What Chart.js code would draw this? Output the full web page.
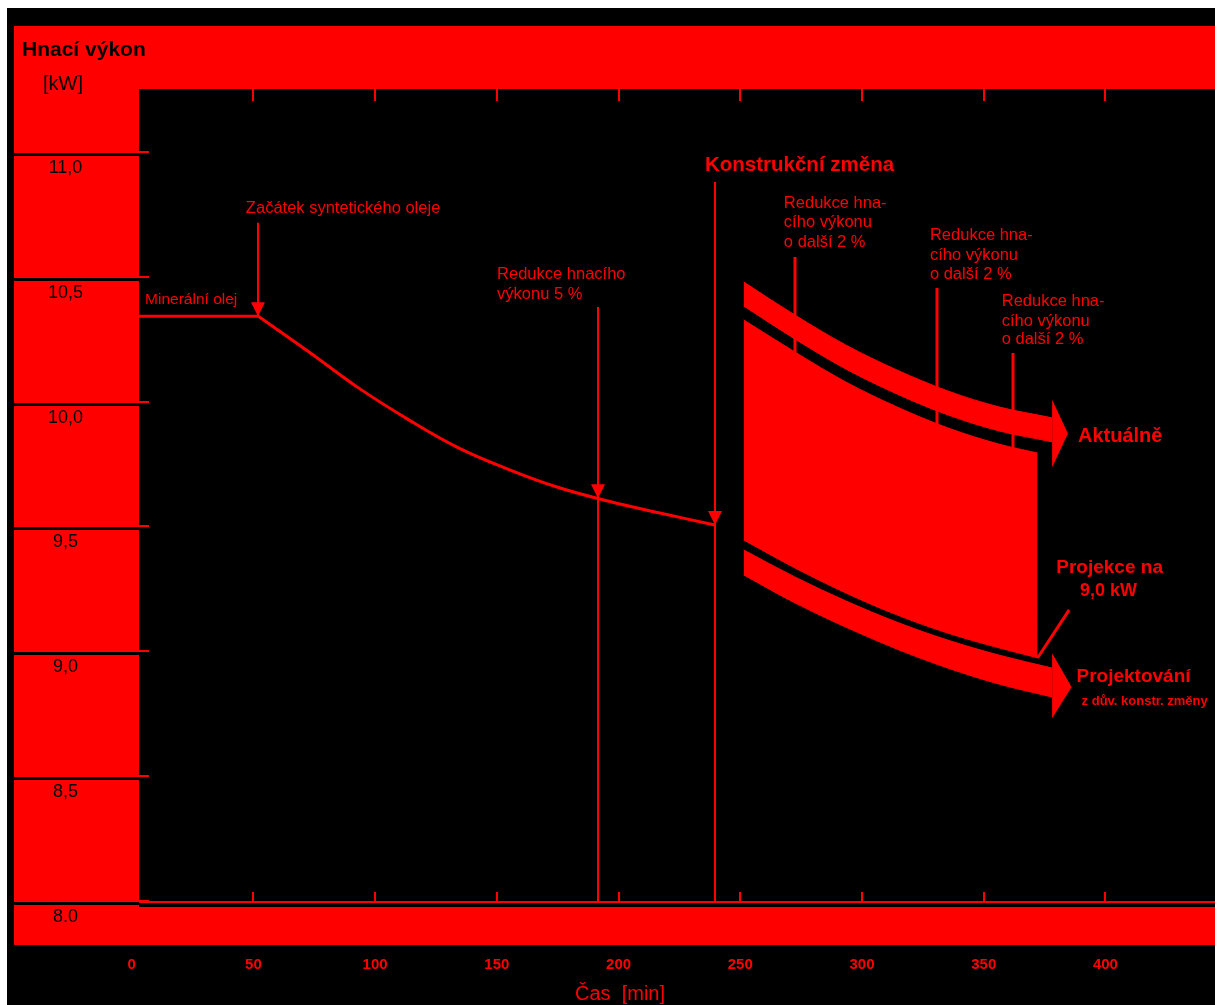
<!DOCTYPE html>
<html lang="cs">
<head>
<meta charset="utf-8">
<title>Hnací výkon</title>
<script src="https://cdn.jsdelivr.net/npm/chart.js@4.4.1/dist/chart.umd.min.js"></script>
<style>
html,body{margin:0;padding:0;background:#fff;}
canvas{display:block;}
</style>
</head>
<body>
<canvas id="c" width="1215" height="1005"></canvas>
<script>
// ---------- data ----------
const xTickValues = [0, 50, 100, 150, 200, 250, 300, 350, 400];
const xTickLabels = ['0', '50', '100', '150', '200', '250', '300', '350', '400'];
const yTickValues = [8.0, 8.5, 9.0, 9.5, 10.0, 10.5, 11.0];
const yTickLabels = ['8.0', '8,5', '9,0', '9,5', '10,0', '10,5', '11,0'];

// mineral oil (min -> kW)
const mineralT = [0, 52];
const mineralV = [10.35, 10.35];
// synthetic oil
const syntheticT = [52, 73, 93, 114, 134, 155, 175, 196, 216.5, 239.5];
const syntheticV = [10.35, 10.206, 10.064, 9.934, 9.824, 9.736, 9.665, 9.609, 9.563, 9.514];

// after design change: "Aktuálně" ribbon
const bandT = [251.4, 272.4, 293.3, 314.3, 335.2, 356.2, 378.1];
const actualTop = [10.487, 10.355, 10.235, 10.135, 10.051, 9.987, 9.943];
const actualBottom = [10.391, 10.259, 10.139, 10.039, 9.955, 9.891, 9.847];
// shaded area between the two trends
const areaT = [251.4, 272.4, 293.3, 314.3, 335.2, 356.2, 372.1];
const areaTop = [10.335, 10.207, 10.087, 9.987, 9.903, 9.838, 9.802];
const areaBottom = [9.454, 9.342, 9.242, 9.154, 9.081, 9.022, 8.982];
// "Projektování" ribbon
const projTop = [9.414, 9.306, 9.21, 9.125, 9.053, 8.993, 8.941];
const projBottom = [9.314, 9.202, 9.105, 9.017, 8.941, 8.877, 8.825];

// arrow heads (triangle vertices: time, kW)
const actualHeadT = [378.1, 384.6, 378.1];
const actualHeadV = [10.015, 9.88, 9.745];
const projHeadT = [378.1, 386.1, 378.1];
const projHeadV = [9.0, 8.865, 8.74];

// event markers (time, top of line in kW)
const eventT = [52, 191.6, 239.5];
const eventTopV = [10.724, 10.387, 10.888];
// reduction markers on the upper ribbon
const reductionT = [272.4, 330.7, 362.2];
const reductionTopV = [10.587, 10.463, 10.203];
// leader for "Projekce na 9,0 kW"
const leaderT = [385.1, 372.1];
const leaderV = [9.174, 8.981];

// ---------- look ----------
const RED = '#ff0000', BLACK = '#000000';
const FAMILY = '"Liberation Sans", Arial, Helvetica, sans-serif';
const eventReachesAxis = [false, true, true];

const notes = [
  {text: 'Začátek syntetického oleje', t: 46.9, v: 10.78, size: 16.5},
  {text: 'Minerální olej', t: 5.5, v: 10.415, size: 15.5},
  {text: 'Redukce hnacího', t: 150.1, v: 10.519, size: 16.5},
  {text: 'výkonu 5 %', t: 150.1, v: 10.439, size: 16.5},
  {text: 'Konstrukční změna', t: 235.5, v: 10.956, size: 20.5, bold: true},
  {text: 'Redukce hna-', t: 267.9, v: 10.80, size: 16.5},
  {text: 'cího výkonu', t: 267.9, v: 10.724, size: 16.5},
  {text: 'o další 2 %', t: 267.9, v: 10.644, size: 16.5},
  {text: 'Redukce hna-', t: 327.9, v: 10.672, size: 16.5},
  {text: 'cího výkonu', t: 327.9, v: 10.595, size: 16.5},
  {text: 'o další 2 %', t: 327.9, v: 10.519, size: 16.5},
  {text: 'Redukce hna-', t: 357.4, v: 10.411, size: 16.5},
  {text: 'cího výkonu', t: 357.4, v: 10.331, size: 16.5},
  {text: 'o další 2 %', t: 357.4, v: 10.255, size: 16.5},
  {text: 'Aktuálně', t: 388.7, v: 9.87, size: 20, bold: true},
  {text: 'Projekce na', t: 379.8, v: 9.342, size: 19, bold: true},
  {text: '9,0 kW', t: 389.5, v: 9.25, size: 18, bold: true},
  {text: 'Projektování', t: 388.1, v: 8.905, size: 19, bold: true},
  {text: 'z dův. konstr. změny', t: 390.2, v: 8.809, size: 13, bold: true}
];

function pts(T, V) { return T.map((t, i) => ({x: t, y: V[i]})); }
function interp(T, V, t) {
  for (let i = 0; i < T.length - 1; i++) {
    if (t >= T[i] && t <= T[i + 1]) return V[i] + (V[i + 1] - V[i]) * (t - T[i]) / (T[i + 1] - T[i]);
  }
  return t < T[0] ? V[0] : V[V.length - 1];
}

const framePlugin = {
  id: 'frame',
  beforeDraw(chart) {
    const {ctx, chartArea: a, scales: {x, y}} = chart;
    const W = chart.width, H = chart.height;
    ctx.save();
    ctx.fillStyle = '#ffffff'; ctx.fillRect(0, 0, W, H);
    ctx.fillStyle = BLACK; ctx.fillRect(7, 8, W - 7, H - 8);
    ctx.fillStyle = RED;
    ctx.fillRect(14, 26, W - 14, a.top - 26);               // top band
    ctx.fillRect(14, 26, a.left - 14, a.bottom + 42 - 26);  // left column
    ctx.fillRect(14, a.bottom + 4, W - 14, 38);             // bottom band
    yTickValues.forEach(v => {
      const p = Math.round(y.getPixelForValue(v));
      ctx.fillStyle = BLACK; ctx.fillRect(10, p - 1, a.left - 10, 3);
      ctx.fillStyle = RED; ctx.fillRect(a.left, p - 3, 10, 2);
    });
    ctx.fillStyle = RED;
    ctx.fillRect(a.left, a.bottom - 2, W - a.left, 2);      // x axis line
    xTickValues.forEach(t => {
      const p = Math.round(x.getPixelForValue(t));
      if (p <= a.left + 2) return;
      ctx.fillRect(p - 1, a.top, 2, 12);
      ctx.fillRect(p - 1, a.bottom - 11, 2, 10);
    });
    ctx.restore();
  },
  afterDatasetsDraw(chart) {
    const {ctx, chartArea: a, scales: {x, y}} = chart;
    const X = t => x.getPixelForValue(t), Y = v => y.getPixelForValue(v);
    const allT = mineralT.concat(syntheticT.slice(1));
    const allV = mineralV.concat(syntheticV.slice(1));
    ctx.save();
    ctx.strokeStyle = RED; ctx.fillStyle = RED; ctx.lineCap = 'butt';
    // event lines with arrows
    eventT.forEach((t, i) => {
      const xp = Math.round(X(t));
      const yTip = Y(interp(allT, allV, t));
      ctx.lineWidth = 2;
      ctx.beginPath();
      ctx.moveTo(xp, Y(eventTopV[i]));
      ctx.lineTo(xp, eventReachesAxis[i] ? a.bottom : yTip);
      ctx.stroke();
      ctx.beginPath();
      ctx.moveTo(xp - 7, yTip - 14); ctx.lineTo(xp + 7, yTip - 14); ctx.lineTo(xp, yTip);
      ctx.closePath(); ctx.fill();
    });
    // reduction markers
    reductionT.forEach((t, i) => {
      const xp = Math.round(X(t));
      ctx.lineWidth = 3;
      ctx.beginPath();
      ctx.moveTo(xp, Y(reductionTopV[i]));
      ctx.lineTo(xp, Y(interp(bandT, actualTop, t)) + 1);
      ctx.moveTo(xp, Y(interp(bandT, actualBottom, t)) - 1);
      ctx.lineTo(xp, Y(interp(areaT, areaTop, t)) + 1);
      ctx.stroke();
    });
    // arrow heads of ribbons
    [[actualHeadT, actualHeadV], [projHeadT, projHeadV]].forEach(([T, V]) => {
      ctx.beginPath();
      T.forEach((t, i) => { if (i === 0) ctx.moveTo(X(t), Y(V[i])); else ctx.lineTo(X(t), Y(V[i])); });
      ctx.closePath(); ctx.fill();
    });
    // leader line
    ctx.lineWidth = 3;
    ctx.beginPath();
    ctx.moveTo(X(leaderT[0]), Y(leaderV[0]));
    ctx.lineTo(X(leaderT[1]), Y(leaderV[1]));
    ctx.stroke();
    ctx.restore();
  },
  afterDraw(chart) {
    const {ctx, scales: {x, y}} = chart;
    ctx.save();
    ctx.textBaseline = 'middle';
    ctx.textAlign = 'left';
    ctx.fillStyle = RED;
    notes.forEach(n => {
      ctx.font = (n.bold ? 'bold ' : '') + n.size + 'px ' + FAMILY;
      ctx.fillText(n.text, x.getPixelForValue(n.t), y.getPixelForValue(n.v));
    });
    // axis titles
    ctx.fillStyle = BLACK;
    ctx.font = 'bold 21px ' + FAMILY;
    ctx.fillText('Hnací výkon', 22, 50);
    ctx.font = '20px ' + FAMILY;
    ctx.fillText('[kW]', 43, 84);
    ctx.fillStyle = RED;
    ctx.textAlign = 'center';
    ctx.font = '20px ' + FAMILY;
    ctx.fillText('Čas  [min]', x.getPixelForValue(200.6), 994);
    ctx.restore();
  }
};

const lineBase = {pointRadius: 0, borderColor: RED, backgroundColor: RED, borderWidth: 1, cubicInterpolationMode: 'monotone'};

new Chart(document.getElementById('c'), {
  type: 'line',
  data: {
    datasets: [
      {data: pts(mineralT, mineralV), borderColor: RED, borderWidth: 3, pointRadius: 0, fill: false, tension: 0},
      {data: pts(syntheticT, syntheticV), borderColor: RED, borderWidth: 3, pointRadius: 0, fill: false, tension: 0.4},
      Object.assign({data: pts(bandT, actualTop), fill: '+1'}, lineBase),
      Object.assign({data: pts(bandT, actualBottom), fill: false}, lineBase),
      Object.assign({data: pts(areaT, areaTop), fill: '+1'}, lineBase),
      Object.assign({data: pts(areaT, areaBottom), fill: false}, lineBase),
      Object.assign({data: pts(bandT, projTop), fill: '+1'}, lineBase),
      Object.assign({data: pts(bandT, projBottom), fill: false}, lineBase)
    ]
  },
  options: {
    responsive: false,
    devicePixelRatio: 1,
    animation: false,
    events: [],
    layout: {autoPadding: false, padding: {top: 89, left: 0, right: 0, bottom: 0}},
    plugins: {legend: {display: false}, tooltip: {enabled: false}, title: {display: false}},
    scales: {
      x: {
        type: 'linear', min: 3.0, max: 445,
        afterBuildTicks: s => { s.ticks = xTickValues.map(v => ({value: v})); },
        afterFit: s => { s.height = 102; },
        grid: {display: false, drawTicks: false},
        border: {display: false},
        ticks: {
          color: RED, font: {family: FAMILY, size: 15, weight: 'bold'},
          padding: 53, autoSkip: false, maxRotation: 0,
          callback: (v, i) => xTickLabels[i]
        }
      },
      y: {
        type: 'linear', min: 8.0, max: 11.26,
        afterBuildTicks: s => { s.ticks = yTickValues.map(v => ({value: v})); },
        afterFit: s => { s.width = 139; },
        grid: {display: false, drawTicks: false},
        border: {display: false},
        ticks: {
          color: BLACK, font: {family: FAMILY, size: 18},
          padding: 56, crossAlign: 'center', labelOffset: 14,
          callback: (v, i) => yTickLabels[i]
        }
      }
    }
  },
  plugins: [framePlugin]
});
</script>
</body>
</html>
